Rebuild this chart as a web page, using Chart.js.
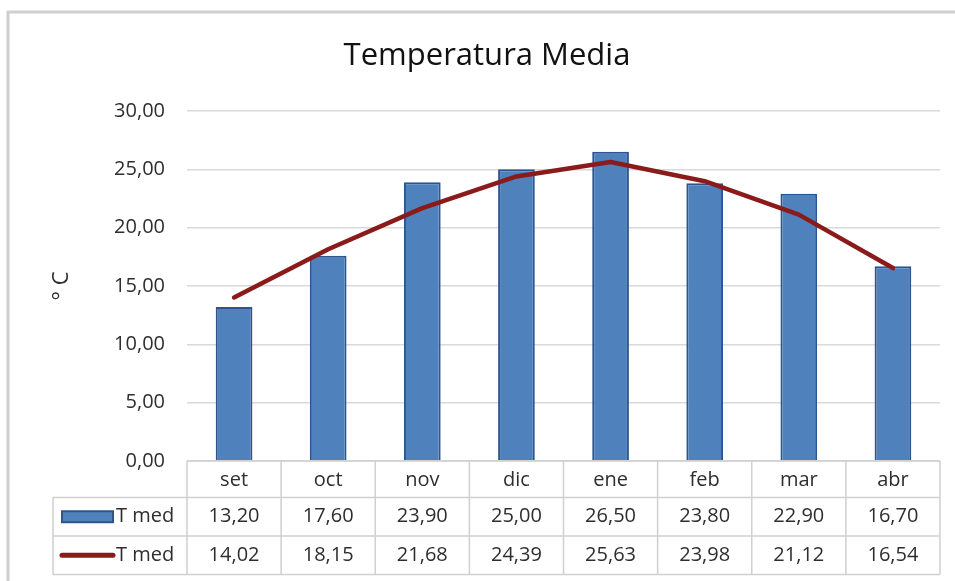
<!DOCTYPE html>
<html><head><meta charset="utf-8">
<script src="https://cdn.jsdelivr.net/npm/chart.js@4/dist/chart.umd.min.js"></script>
<style>html,body{margin:0;padding:0;background:#fff;overflow:hidden;}</style>
</head><body>
<canvas id="c" width="955" height="581" style="display:block;width:955px;height:581px"></canvas>
<script>
const categories = ['set','oct','nov','dic','ene','feb','mar','abr'];
const barValues = [13.20, 17.60, 23.90, 25.00, 26.50, 23.80, 22.90, 16.70];
const lineValues = [14.02, 18.15, 21.68, 24.39, 25.63, 23.98, 21.12, 16.54];
const barSeriesName = 'T med';
const lineSeriesName = 'T med';
const chartTitle = 'Temperatura Media';
const yAxisTitle = '° C';
const yTicks = [0, 5, 10, 15, 20, 25, 30];

const FONT = "'Open Sans', 'Noto Sans', sans-serif";
const TEXT = '#2e2e2e';
const BAR_FILL = '#4F81BD';
const BAR_EDGE = '#2C5590';
const LINE_COLOR = '#8B1A1A';
const GRID = '#d9d9d9';

function fmt(v){ return v.toFixed(2).replace('.', ','); }

const tablePlugin = {
  id: 'dataTable',
  beforeDraw(chart){
    const ctx = chart.ctx;
    ctx.save();
    ctx.fillStyle = '#fff';
    ctx.fillRect(0,0,chart.width,chart.height);
    ctx.strokeStyle = '#cfcfcf';
    ctx.lineWidth = 3;
    ctx.beginPath();
    ctx.moveTo(8, chart.height + 5);
    ctx.lineTo(8, 12);
    ctx.lineTo(chart.width + 5, 12);
    ctx.stroke();
    ctx.restore();
  },
  afterDraw(chart){
    const ctx = chart.ctx;
    const area = chart.chartArea;
    const xs = chart.scales.x;
    const n = categories.length;
    const w = (area.right - area.left) / n;
    const top = area.bottom;
    const r1 = top + 36.5, r2 = r1 + 38.5, r3 = r2 + 38.5;
    const tableLeft = 53;
    ctx.save();
    ctx.strokeStyle = '#d0d0d0';
    ctx.lineWidth = 1.5;
    ctx.beginPath();
    ctx.moveTo(area.left, top); ctx.lineTo(area.right, top);
    [r1, r2, r3].forEach(y => { ctx.moveTo(tableLeft, y); ctx.lineTo(area.right, y); });
    ctx.moveTo(tableLeft, r1); ctx.lineTo(tableLeft, r3);
    for (let i = 0; i <= n; i++) {
      const x = xs.getPixelForValue(0) - w/2 + i*w;
      ctx.moveTo(x, top); ctx.lineTo(x, r3);
    }
    ctx.stroke();

    ctx.font = "20px " + FONT;
    ctx.fillStyle = TEXT;
    ctx.textAlign = 'center';
    ctx.textBaseline = 'middle';
    const y1 = (r1 + r2)/2, y2 = (r2 + r3)/2;
    for (let i = 0; i < n; i++) {
      const cx = xs.getPixelForValue(i);
      ctx.fillText(fmt(barValues[i]), cx, y1);
      ctx.fillText(fmt(lineValues[i]), cx, y2);
    }
    // legend keys
    ctx.fillStyle = BAR_FILL;
    ctx.strokeStyle = BAR_EDGE;
    ctx.lineWidth = 2;
    ctx.fillRect(62, y1 - 5.5, 51, 11);
    ctx.strokeRect(62, y1 - 5.5, 51, 11);
    ctx.strokeStyle = LINE_COLOR;
    ctx.lineWidth = 5;
    ctx.lineCap = 'round';
    ctx.beginPath();
    ctx.moveTo(62, y2); ctx.lineTo(113, y2);
    ctx.stroke();
    ctx.fillStyle = TEXT;
    ctx.textAlign = 'left';
    ctx.fillText(barSeriesName, 116, y1);
    ctx.fillText(lineSeriesName, 116, y2);
    ctx.restore();
  }
};

new Chart(document.getElementById('c'), {
  data: {
    labels: categories,
    datasets: [
      {
        type: 'line', label: lineSeriesName, data: lineValues,
        borderColor: LINE_COLOR, borderWidth: 4.5, tension: 0,
        pointRadius: 0, borderCapStyle: 'round', borderJoinStyle: 'round',
        fill: false, order: 0
      },
      {
        type: 'bar', label: barSeriesName, data: barValues,
        backgroundColor: BAR_FILL, borderColor: BAR_EDGE, borderWidth: 2,
        categoryPercentage: 1, barPercentage: 0.39, order: 1
      }
    ]
  },
  options: {
    responsive: false,
    animation: false,
    layout: { padding: { top: 20, left: 34, right: 15, bottom: 84 } },
    plugins: {
      legend: { display: false },
      tooltip: { enabled: false },
      title: {
        display: true, text: chartTitle, color: '#111',
        font: { family: FONT, size: 31, weight: 'normal' },
        padding: { top: 18, bottom: 35.8 }
      }
    },
    scales: {
      x: {
        grid: { display: false, drawTicks: false },
        border: { display: false },
        ticks: { color: TEXT, font: { family: FONT, size: 20 }, padding: 7, maxRotation: 0 },
        afterFit(s){ s.height = 36; }
      },
      y: {
        min: 0, max: 30,
        afterBuildTicks(s){ s.ticks = yTicks.map(v => ({ value: v })); },
        grid: { color: GRID, lineWidth: 1.5, drawTicks: false },
        border: { display: false },
        ticks: { color: TEXT, font: { family: FONT, size: 20 }, padding: 22, callback: v => fmt(v) },
        title: { display: true, text: yAxisTitle, color: TEXT, font: { family: FONT, size: 22 }, padding: { top: 15, bottom: 0 } },
        afterFit(s){ s.width = 153; }
      }
    }
  },
  plugins: [tablePlugin]
});
</script>
</body></html>
